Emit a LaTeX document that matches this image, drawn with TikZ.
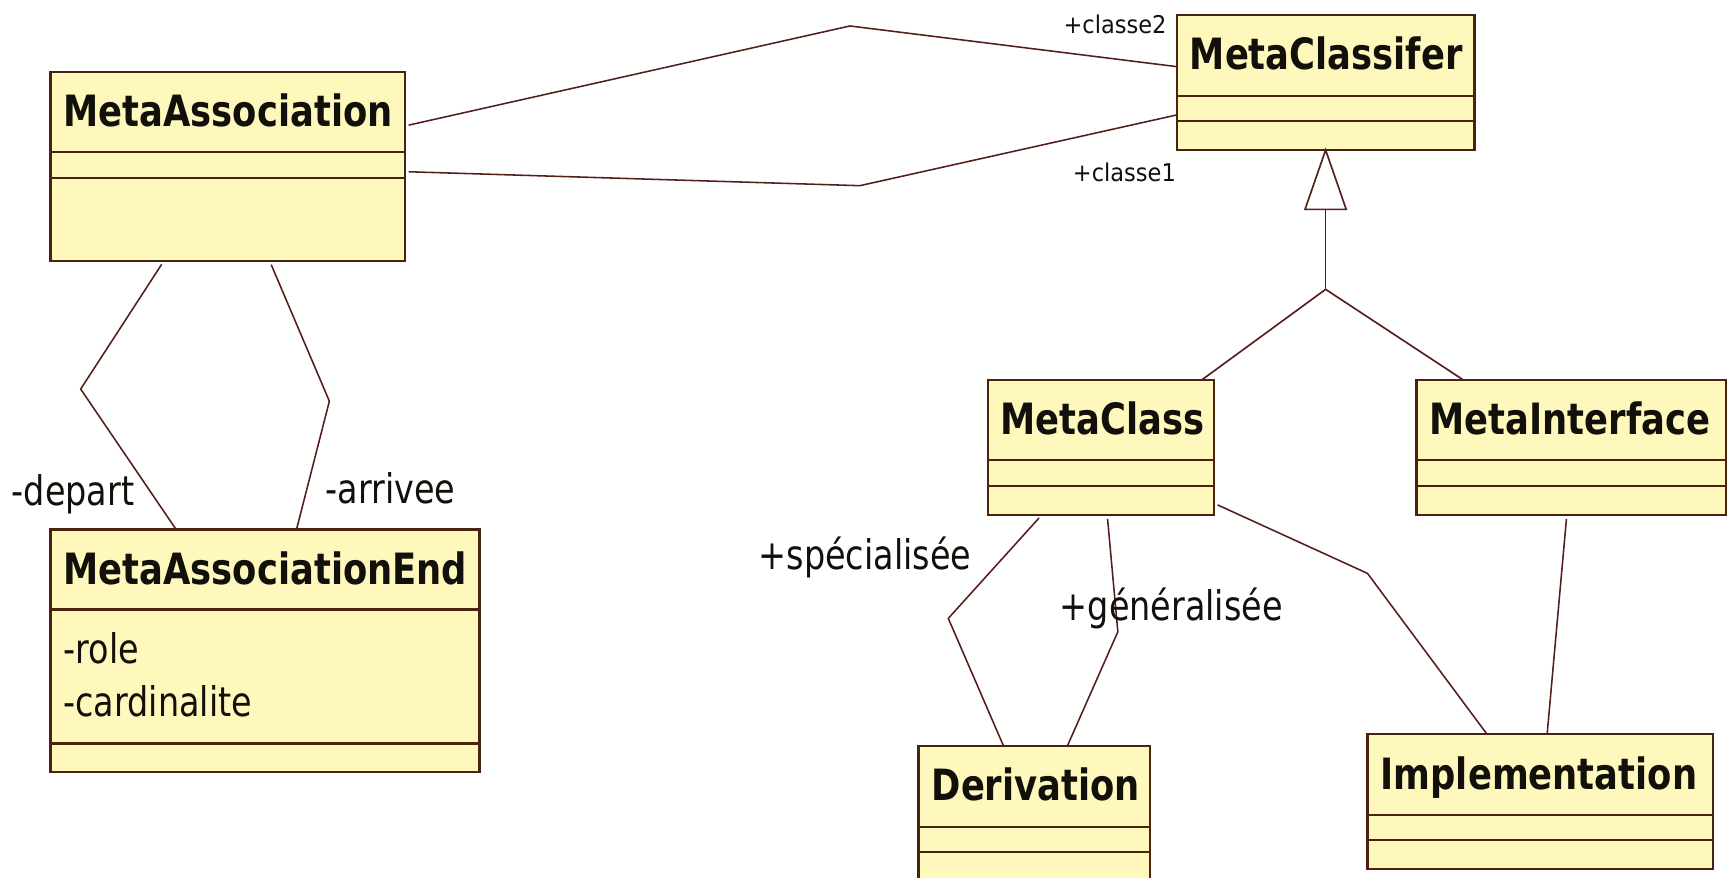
\documentclass[tikz,border=0pt]{standalone}
\usepackage{fontspec}
\newfontfamily\umlfont[FakeStretch=0.82]{DejaVu Sans}
\newfontfamily\umlsmallfont[FakeStretch=0.92]{DejaVu Sans}
\usetikzlibrary{fit,calc}

\definecolor{boxfill}{RGB}{255,248,188}
\definecolor{boxedge}{RGB}{72,36,14}
\definecolor{linkcol}{RGB}{84,30,26}
\definecolor{inkcol}{RGB}{18,16,10}

\tikzset{
  classbox/.style={rectangle, draw=boxedge, fill=boxfill, line width=1.15pt,
                   inner sep=0pt, outer sep=0pt},
  divider/.style={draw=boxedge, line width=1.15pt},
  classname/.style={anchor=base west, inner sep=0pt, text=inkcol,
                    font=\umlfont\bfseries\fontsize{22.2}{26}\selectfont},
  attrtext/.style={anchor=base west, inner sep=0pt, text=inkcol,
                   font=\umlfont\fontsize{21}{25}\selectfont},
  rolelabel/.style={anchor=base west, inner sep=0pt, text=inkcol,
                    font=\umlfont\fontsize{21}{25}\selectfont},
  smallrole/.style={anchor=base west, inner sep=0pt, text=inkcol,
                    font=\umlsmallfont\fontsize{12.6}{15}\selectfont},
  assoc/.style={draw=linkcol, line width=0.8pt, shorten <=2pt},
  genline/.style={draw=linkcol, line width=0.85pt},
}

% UML class: name, left, top, right, bottom, first divider, second divider, title
\newcommand\umlclass[8]{%
  \node[classbox, fit={(#2,#3) (#4,#5)}] (#1) {};
  \draw[divider] (#2,#6) -- (#4,#6);
  \draw[divider] (#2,#7) -- (#4,#7);
  \node[classname] (#1-name) at (#2+11.5,#3+49.5) {#8};
}

\begin{document}
\begin{tikzpicture}[x=0.02cm, y=-0.02cm]
  \useasboundingbox (0,0) rectangle (1568,794);
  \fill[white] (0,0) rectangle (1568,794);
  \clip (0,0) rectangle (1568,794);

  % classes
  \umlclass{MA}{45.7}{64.8}{366.3}{236.2}{137.8}{160.8}{MetaAssociation}
  \umlclass{MCf}{1064.7}{13.3}{1334.1}{135.7}{86.6}{109.2}{MetaClassifer}
  \umlclass{MCl}{893.6}{343.8}{1098.5}{466}{416.5}{439.8}{MetaClass}
  \umlclass{MI}{1281.6}{343.8}{1561.8}{466}{416.5}{439.8}{MetaInterface}
  \umlclass{MAE}{45.7}{479}{433.8}{698.2}{551.4}{672.6}{MetaAssociationEnd}
  \umlclass{Der}{831.1}{675}{1040.2}{797}{748}{770.6}{Derivation}
  \umlclass{Impl}{1237.3}{664.4}{1549.8}{786.3}{737.4}{760}{Implementation}

  % attributes of MetaAssociationEnd
  \node[attrtext] (MAE-role) at (57.1,600.2) {-role};
  \node[attrtext] (MAE-card) at (57.1,648.5) {-cardinalite};

  % bend points of the associations
  \coordinate (b-c2)   at (769,23.5);
  \coordinate (b-c1)   at (778,168);
  \coordinate (b-dep)  at (73,352);
  \coordinate (b-arr)  at (298,363);
  \coordinate (b-spe)  at (858,559.5);
  \coordinate (b-gen)  at (1011.4,571.6);
  \coordinate (b-impl) at (1237.3,518.8);

  % associations between MetaAssociation and MetaClassifer
  \draw[assoc] (MA.east |- 0,114) -- (b-c2) -- (MCf.west |- 0,60.3);
  \draw[assoc] (MA.east |- 0,155.3) -- (b-c1) -- (MCf.west |- 0,104);

  % associations between MetaAssociation and MetaAssociationEnd
  \draw[assoc] (MA.south -| 148.2,0) -- (b-dep) -- (MAE.north -| 159.3,0);
  \draw[assoc] (MA.south -| 244,0) -- (b-arr) -- (MAE.north -| 268.3,0);

  % associations between MetaClass and Derivation
  \draw[assoc] (MCl.south -| 942.5,0) -- (b-spe) -- (Der.north -| 908,0);
  \draw[assoc] (MCl.south -| 1001.8,0) -- (b-gen) -- (Der.north -| 965.7,0);

  % associations towards Implementation
  \draw[assoc] (MCl.east |- 0,455.4) -- (b-impl) -- (Impl.north -| 1345.5,0);
  \draw[assoc] (MI.south -| 1417.6,0) -- (Impl.north -| 1399.8,0);

  % generalisation: MetaClass and MetaInterface specialise MetaClassifer
  \coordinate (g-join) at (1199.4,261.8);
  \coordinate (g-base) at ($(MCf.south)+(0,53.7)$);
  \draw[genline, fill=white, line join=miter]
    (MCf.south) -- ($(g-base)+(-18.6,0)$) -- ($(g-base)+(18.6,0)$) -- cycle;
  \draw[genline] (g-base) -- (g-join);
  \draw[genline] (MCl.north -| 1087.3,0) -- (g-join) -- (MI.north -| 1324,0);

  % role names
  \node[smallrole] (l-c2)  at (961.9,30)    {+classe2};
  \node[smallrole] (l-c1)  at (970.4,164)   {+classe1};
  \node[rolelabel] (l-dep) at (10.4,457)    {-depart};
  \node[rolelabel] (l-arr) at (294.3,455.5) {-arrivee};
  \node[rolelabel] (l-spe) at (686,515.7)   {+spécialisée};
  \node[rolelabel] (l-gen) at (958.5,561)   {+généralisée};
\end{tikzpicture}
\end{document}
